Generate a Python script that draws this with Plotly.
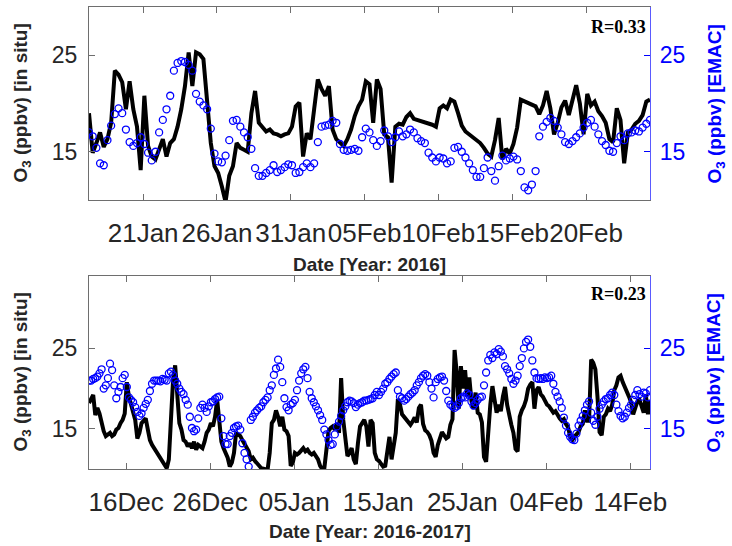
import pandas as pd
import plotly.graph_objects as go

# ---------------- data (6-hourly) ----------------
top_start = "2016-01-17 08:00"
insitu_top = [
    19.0, 14.9, 15.9, 17.0, 15.5, 16.3, 18.0, 23.4, 23.0, 22.2,
    19.4, 22.3, 19.4, 17.6, 13.1, 20.8, 15.6, 14.5, 14.2, 15.2,
    16.3, 14.5, 15.9, 16.3, 17.6, 19.4, 21.8, 25.3, 21.8, 25.3,
    25.1, 24.6, 19.7, 15.9, 13.5, 12.8, 11.4, 9.8, 12.5, 13.5,
    15.9, 15.4, 15.2, 15.0, 19.0, 21.3, 18.0, 17.6, 17.1, 17.3,
    16.9, 16.8, 16.6, 16.8, 16.9, 17.6, 19.7, 20.1, 14.5, 16.9,
    16.3, 19.4, 22.5, 21.5, 20.8, 21.8, 17.3, 16.3, 15.9, 15.6,
    16.3, 17.3, 18.7, 19.7, 20.4, 22.3,
    22.0, 18.0, 22.5, 21.5, 16.8, 16.5, 11.8, 17.6, 17.9, 17.8,
    18.6, 19.0, 18.4, 18.3, 18.2, 18.0, 17.9, 17.8, 17.6, 19.5,
    19.8, 19.5, 20.4, 20.2, 19.0, 17.7, 17.1, 16.8, 16.5, 16.2,
    15.9, 15.4, 14.8, 14.5, 16.2, 18.5, 14.2, 15.3, 14.8, 15.8,
    17.5, 20.4, 20.2, 20.0, 19.8, 19.7, 18.9, 19.8, 21.3, 19.5,
    16.8, 18.0, 19.6, 20.3, 18.8, 20.5, 21.9, 20.0, 16.8, 21.0,
    19.8, 20.2, 19.2, 18.7, 18.0, 16.3, 16.0, 19.5, 18.3, 13.8,
    17.0, 17.3, 17.9, 18.2, 18.8, 20.2, 20.4,
]
emac_top = [
    17.0, 16.6, 15.4, 13.8, 13.6, 16.2, 17.7, 18.9, 19.5, 19.0,
    17.3, 16.0, 15.6, 15.9, 16.5, 15.8, 14.9, 14.1, 15.0, 17.0,
    18.3, 19.4, 20.8, 23.4, 24.2, 24.4, 24.3, 24.0, 23.4, 21.0,
    20.2, 19.8, 19.4, 17.4, 14.8, 14.0, 13.9, 14.6, 16.2, 18.2,
    18.3, 17.6, 17.0, 16.5, 15.3, 13.3, 12.5, 12.5, 12.8, 13.1,
    13.6, 12.9, 13.1, 13.4, 13.7, 13.6, 12.8, 12.9, 13.4, 13.8,
    13.4, 13.8, 16.0, 17.6, 17.7, 17.8, 18.2, 18.0, 15.8, 15.2,
    15.1, 15.2, 15.3, 15.1, 16.5, 17.4,
    17.0, 16.2, 15.6, 16.1, 17.2, 16.6, 16.0, 16.5, 17.1, 16.6,
    16.8, 17.3, 17.0, 16.4, 16.1, 15.9, 14.9, 14.4, 14.0, 14.4,
    14.3, 13.8, 14.0, 15.4, 15.5, 15.0, 14.4, 13.8, 13.1, 12.4,
    12.4, 13.3, 14.4, 13.0, 12.0, 13.5, 14.6, 14.1, 14.3, 14.5,
    14.2, 13.0, 11.3, 11.0, 11.6, 13.0, 16.6, 17.6, 18.1, 18.5,
    18.2, 17.5, 16.8, 16.0, 15.8, 16.1, 16.5, 16.9, 17.5, 18.0,
    18.3, 17.6, 16.8, 16.1, 15.7, 15.1, 15.0, 15.9, 16.6, 16.2,
    16.9, 17.0, 17.2, 17.1, 17.5, 17.9, 18.3,
]

bot_start = "2016-12-11 14:00"
insitu_bot = [
    18.2, 18.6, 19.2, 16.7, 17.6, 16.9, 15.7, 14.7, 14.1, 14.3,
    14.5, 14.1, 14.3, 14.9, 15.1, 15.7, 16.1, 16.9, 20.8, 19.0,
    18.0, 16.7, 16.1, 13.8, 14.5, 15.7, 16.1, 16.3, 14.9, 13.6,
    13.0, 12.6, 12.0, 11.8, 11.2, 10.8, 10.4, 10.1, 11.2, 17.5,
    21.0, 22.9, 18.5, 15.7, 14.9, 13.6, 13.4, 12.8, 13.2, 12.6,
    13.4, 12.4, 13.0, 12.8, 12.6, 13.4, 14.5, 14.9, 15.7, 15.3,
    16.5, 18.6, 15.3, 13.4, 12.6, 12.0, 11.4, 10.3, 10.8, 12.0,
    14.5, 14.3, 14.1, 13.6, 13.2, 12.8, 12.2, 11.2, 11.4, 11.0,
    10.6, 10.4, 10.1, 10.0, 10.0, 9.9, 12.0, 15.7, 16.1, 17.3,
    16.5, 15.3, 16.5, 14.9, 14.7, 14.1, 10.4, 10.8, 12.0, 11.8,
    12.0, 12.4, 12.6, 12.2, 12.4, 12.0, 11.8, 12.0, 11.6, 11.2,
    10.4, 10.0, 10.1, 12.8, 14.7, 15.1, 15.3, 14.9, 15.7, 14.5,
    21.3, 16.1, 13.2, 11.6, 12.0, 12.6, 11.2, 10.6, 13.2, 15.3,
    15.7, 16.1, 15.3, 12.8, 16.1, 15.7, 12.0, 11.2,
    11.0, 10.6, 10.3, 10.4, 12.5, 14.0, 11.2, 12.8, 14.5, 18.7,
    18.0, 16.8, 16.5, 16.2, 15.8, 15.5, 15.9, 16.4, 15.8, 17.6,
    18.0, 15.6, 14.8, 14.6, 14.2, 13.5, 12.0, 11.5, 13.0, 14.0,
    14.6, 14.2, 13.8, 14.0, 15.5, 16.2, 24.8, 22.0, 17.5, 22.8,
    20.0, 22.3, 19.0, 21.4, 18.5, 17.5, 19.5, 17.0, 16.8, 15.8,
    11.5, 10.9, 15.5, 18.0, 20.3, 18.6, 17.0, 18.0, 17.2, 19.0,
    20.2, 18.0, 16.5, 15.5, 14.5, 12.5, 12.2, 16.5, 17.3, 17.8,
    18.6,
    20.0, 20.5, 20.8, 17.5, 19.8, 20.2, 19.3, 19.0, 18.4, 18.0,
    17.8, 17.4, 17.0, 17.2, 16.6, 16.3, 16.0, 16.2, 15.6, 15.2,
    14.0, 13.6, 14.0, 14.3, 14.6, 15.3, 15.6, 17.3, 16.0, 16.0,
    23.6, 23.2, 22.4, 19.0, 14.6, 14.2, 16.5, 16.8, 17.5, 17.2,
    18.0, 19.8, 20.4, 21.4, 21.6, 20.8, 20.2, 19.9, 19.0, 18.3,
    16.8, 17.6, 18.4, 18.6, 17.8, 17.0, 19.3, 16.8, 18.6,
]
emac_bot = [
    21.0, 21.0, 21.2, 21.3, 21.5, 21.9, 22.4, 20.0, 20.4, 21.3,
    23.1, 22.3, 20.4, 18.8, 19.6, 20.2, 21.3, 21.7, 20.2, 18.9,
    18.6, 18.3, 17.7, 17.1, 16.6, 16.9, 17.6, 18.1, 18.6, 19.7,
    20.6, 21.0, 21.0, 21.0, 20.9, 21.2, 21.1, 21.0, 21.9, 22.1,
    21.7, 21.0, 20.6, 20.0, 19.6, 19.3, 18.6, 18.0, 16.5, 15.1,
    14.7, 14.9, 16.3, 17.6, 18.0, 17.6, 17.1, 17.8, 18.3, 18.4,
    18.7, 18.9, 19.0, 16.3, 14.1, 13.1, 13.1, 14.1, 14.5, 15.1,
    15.3, 15.4, 14.9, 13.2, 12.0, 11.2, 10.3, 16.1, 16.5, 17.0,
    17.3, 17.6, 17.8, 18.3, 18.6, 18.9, 19.8, 20.4, 21.7, 22.5,
    23.6, 22.7, 20.8, 18.8, 17.7, 17.3, 18.0, 18.2, 18.6, 19.8,
    21.0, 21.9, 22.4, 22.7, 21.3, 19.6, 18.8, 18.3, 17.8, 17.3,
    16.7, 16.1, 14.9, 14.3, 13.6, 13.0, 13.1, 14.3, 15.3, 15.9,
    16.6, 17.3, 17.8, 18.3, 18.5, 18.4, 18.2, 17.7, 18.0, 18.2,
    18.3, 18.5, 18.5, 18.6, 18.7, 18.8, 19.2, 19.6,
    19.2, 19.6, 20.0, 20.6, 20.8, 21.2, 21.5, 21.8, 22.0, 19.8,
    19.0, 18.8, 18.5, 18.7, 19.0, 19.3, 19.5, 19.8, 20.4, 20.8,
    21.3, 21.6, 21.8, 21.6, 20.8, 20.0, 18.9, 20.8, 21.2, 21.4,
    21.5, 21.0, 19.7, 18.5, 18.0, 17.8, 17.6, 17.8, 18.2, 18.8,
    19.0, 18.9, 19.4, 19.2, 18.4, 17.9, 18.2, 18.6, 18.9, 19.0,
    20.4, 22.0, 23.5, 24.2, 23.8, 24.5, 24.3, 24.9, 24.6, 24.0,
    22.8, 22.4, 21.9, 21.2, 20.6, 21.0, 21.6, 22.8, 23.8, 25.0,
    25.8, 26.1, 25.2, 23.5, 22.0, 21.3, 21.2, 21.3, 21.2, 21.4,
    21.3, 21.4, 21.6, 20.6, 19.6, 19.0, 18.4, 17.6, 16.4, 15.4,
    14.5, 14.0, 13.7, 13.6, 14.4, 15.4, 16.0, 16.6, 17.3, 18.0,
    18.4, 17.0, 16.0, 15.5, 16.5, 17.5, 18.0, 18.4, 18.7, 18.8,
    19.2, 19.5, 19.2, 18.0, 17.2, 16.6, 16.3, 16.5, 17.0, 17.6,
    18.0, 18.6, 19.2, 19.8, 19.3, 19.0, 19.5, 19.4, 18.9, 19.8,
]

top_tick_dates = ["2016-01-21", "2016-01-26", "2016-01-31", "2016-02-05",
                  "2016-02-10", "2016-02-15", "2016-02-20"]
top_tick_text = ["21Jan", "26Jan", "31Jan", "05Feb", "10Feb", "15Feb", "20Feb"]
bot_tick_dates = ["2016-12-16", "2016-12-26", "2017-01-05", "2017-01-15",
                  "2017-01-25", "2017-02-04", "2017-02-14"]
bot_tick_text = ["16Dec", "26Dec", "05Jan", "15Jan", "25Jan", "04Feb", "14Feb"]
y_ticks = [15, 25]
r_top = "R=0.33"
r_bot = "R=0.23"

t_top = pd.date_range(top_start, periods=len(insitu_top), freq="6h")
t_bot = pd.date_range(bot_start, periods=len(insitu_bot), freq="6h")

# ---------------- figure ----------------
DARK = "#262626"
FRAME = "#6e6e6e"
BLUE = "#0000ff"
FONT = "Liberation Sans, Arial, sans-serif"

fig = go.Figure()
line_style = dict(color="black", width=4)
mk = dict(symbol="circle-open", size=7, color=BLUE, line=dict(width=1.3, color=BLUE))

fig.add_trace(go.Scatter(x=t_top, y=insitu_top, mode="lines", line=line_style, xaxis="x", yaxis="y"))
fig.add_trace(go.Scatter(x=t_top, y=emac_top, mode="markers", marker=mk, xaxis="x", yaxis="y2"))
fig.add_trace(go.Scatter(x=t_bot, y=insitu_bot, mode="lines", line=line_style, xaxis="x2", yaxis="y3"))
fig.add_trace(go.Scatter(x=t_bot, y=emac_bot, mode="markers", marker=mk, xaxis="x2", yaxis="y4"))

top_dom = [0.5823, 1.0]
bot_dom = [0.0, 0.4177]

def xax(anchor, rng, tv, tt):
    return dict(domain=[0, 1], anchor=anchor, range=rng, tickvals=tv, ticktext=tt,
                ticks="inside", ticklen=6, tickcolor=FRAME, showline=True,
                linecolor=FRAME, linewidth=1, mirror="ticks", showgrid=False,
                zeroline=False, tickfont=dict(family=FONT, size=26, color=DARK),
                ticklabelstandoff=10, tickangle=0, automargin=False)

def yleft(dom, anchor, rng):
    return dict(domain=dom, anchor=anchor, range=rng, tickvals=y_ticks,
                ticks="inside", ticklen=6, tickcolor=FRAME, showline=True,
                linecolor=FRAME, linewidth=1, showgrid=False, zeroline=False,
                tickfont=dict(family=FONT, size=23, color=DARK), ticklabelstandoff=6,
                automargin=False)

def yright(over, anchor, rng):
    return dict(overlaying=over, side="right", anchor=anchor, range=rng, tickvals=y_ticks,
                ticks="inside", ticklen=6, tickcolor=BLUE, showline=True,
                linecolor="#5a5aff", linewidth=1.2, showgrid=False, zeroline=False,
                tickfont=dict(family=FONT, size=23, color=BLUE), ticklabelstandoff=4,
                automargin=False)

fig.update_layout(
    width=732, height=546,
    margin=dict(l=89, r=82, t=7, b=77, autoexpand=False),
    paper_bgcolor="white", plot_bgcolor="white",
    showlegend=False,
    xaxis=xax("y", ["2016-01-17 08:00", "2016-02-24 08:00"], top_tick_dates, top_tick_text),
    yaxis=yleft(top_dom, "x", [10, 30]),
    yaxis2=yright("y", "x", [10, 30]),
    xaxis2=xax("y3", ["2016-12-11 14:00", "2017-02-16 08:00"], bot_tick_dates, bot_tick_text),
    yaxis3=yleft(bot_dom, "x2", [10, 34]),
    yaxis4=yright("y3", "x2", [10, 34]),
)

ann_common = dict(xref="paper", yref="paper", showarrow=False)
title_font = dict(family=FONT, size=19, color=DARK)
fig.add_annotation(text="<b>Date [Year: 2016]</b>", x=0.5, y=0.4416, xanchor="center",
                   yanchor="middle", font=title_font, **ann_common)
fig.add_annotation(text="<b>Date [Year: 2016-2017]</b>", x=0.5, y=-0.1342, xanchor="center",
                   yanchor="middle", font=title_font, **ann_common)
for yc in (0.791, 0.2089):
    fig.add_annotation(text="<b>O<sub>3</sub> (ppbv) [in situ]</b>", x=-0.1194, y=yc,
                       textangle=-90, xanchor="center", yanchor="middle",
                       font=dict(family=FONT, size=19, color=DARK), **ann_common)
    fig.add_annotation(text="<b>O<sub>3</sub> (ppbv) [EMAC]</b>", x=1.1176, y=yc,
                       textangle=-90, xanchor="center", yanchor="middle",
                       font=dict(family=FONT, size=19, color=BLUE), **ann_common)
r_font = dict(family="Liberation Serif, Times New Roman, serif", size=18, color="black")
fig.add_annotation(text="<b>%s</b>" % r_top, x=0.9964, y=0.9567, xanchor="right",
                   yanchor="middle", font=r_font, **ann_common)
fig.add_annotation(text="<b>%s</b>" % r_bot, x=0.9964, y=0.3788, xanchor="right",
                   yanchor="middle", font=r_font, **ann_common)

fig.write_html("out.html", config={"displayModeBar": False},
               post_script="document.body.style.margin='0px';document.body.style.overflow='hidden';")
